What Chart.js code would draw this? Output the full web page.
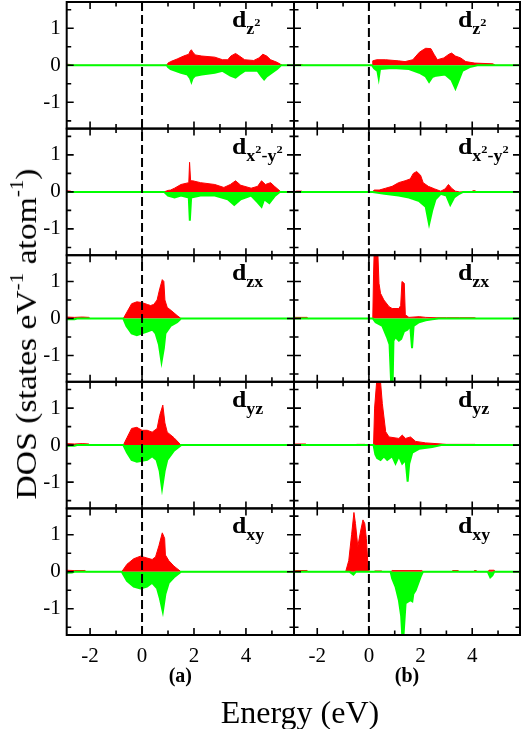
<!DOCTYPE html>
<html>
<head>
<meta charset="utf-8">
<script src="https://cdn.jsdelivr.net/npm/chart.js@4.4.1/dist/chart.umd.min.js"></script>
<style>
html,body{margin:0;padding:0;background:#fff;}
#wrap{position:relative;width:525px;height:729px;overflow:hidden;font-family:"Liberation Serif","Times New Roman",serif;color:#000;}
canvas{position:absolute;left:0;top:0;}
.pl{position:absolute;font-weight:bold;font-size:23px;line-height:23px;white-space:nowrap;z-index:5;transform:scaleX(1.12);transform-origin:0 0;}
.pl sub{font-size:16px;vertical-align:baseline;position:relative;top:7px;}
.pl sup{font-size:11px;vertical-align:baseline;position:relative;top:-8px;}
#ylab{position:absolute;width:360px;height:32px;line-height:32px;font-size:29px;text-align:center;white-space:nowrap;transform:rotate(-90deg) scaleX(1.16);z-index:5;}
#ylab sup{font-size:18px;vertical-align:baseline;position:relative;top:-13px;}
#xlab{position:absolute;width:260px;height:34px;line-height:34px;font-size:32px;text-align:center;white-space:nowrap;z-index:5;}
</style>
</head>
<body>
<div id="wrap">
  <canvas id="ca" width="525" height="729"></canvas>
  <canvas id="cb" width="525" height="729"></canvas>
  <div id="ylab">DOS (states eV<sup>-1</sup> atom<sup>-1</sup>)</div>
  <div id="xlab">Energy (eV)</div>
</div>
<script>
// ---------------- data (energy in eV, DOS in states/eV/atom) ----------------
const rowLabels = ['z<sup>2</sup>', 'x<sup>2</sup>-y<sup>2</sup>', 'zx', 'yz', 'xy'];
const panelTitles = ['(a)', '(b)'];
const xTickStep = 1;
const yTickStep = 0.5;

// column (a)
const aDz2Up = [[-2.9,0.03],[-2.75,0.02],[-2.7,0],[0.95,0],[1.0,0.06],[1.1,0.1],[1.35,0.17],[1.6,0.25],[1.8,0.3],[1.85,0.38],[1.9,0.42],[1.95,0.36],[2.05,0.28],[2.3,0.25],[2.8,0.22],[3.1,0.15],[3.3,0.15],[3.42,0.25],[3.6,0.32],[3.75,0.25],[3.95,0.15],[4.3,0.13],[4.5,0.2],[4.65,0.3],[4.8,0.25],[4.95,0.15],[5.2,0.08],[5.4,0],[5.85,0]];
const aDz2Dn = [[-2.9,0],[0.95,0],[1.0,-0.05],[1.1,-0.1],[1.5,-0.2],[1.75,-0.25],[1.85,-0.35],[1.9,-0.45],[1.95,-0.35],[2.05,-0.28],[2.3,-0.25],[2.8,-0.2],[3.1,-0.15],[3.4,-0.28],[3.6,-0.33],[3.75,-0.25],[3.95,-0.15],[4.45,-0.15],[4.6,-0.3],[4.7,-0.38],[4.8,-0.3],[5.0,-0.2],[5.2,-0.1],[5.35,0],[5.85,0]];
const aDx2Up = [[-2.9,0.03],[-2.75,0.02],[-2.7,0],[0.85,0],[1.0,0.04],[1.1,0.05],[1.25,0.1],[1.5,0.2],[1.8,0.25],[1.83,0.8],[1.87,0.3],[1.95,0.3],[2.25,0.25],[2.8,0.2],[3.15,0.12],[3.4,0.2],[3.6,0.3],[3.8,0.18],[4.2,0.1],[4.45,0.15],[4.6,0.3],[4.75,0.2],[4.95,0.25],[5.1,0.15],[5.35,0],[5.85,0]];
const aDx2Dn = [[-2.9,0],[0.85,0],[1.0,-0.1],[1.25,-0.15],[1.5,-0.1],[1.8,-0.15],[1.84,-0.78],[1.89,-0.15],[2.25,-0.1],[2.8,-0.1],[3.3,-0.2],[3.55,-0.35],[3.8,-0.2],[4.2,-0.1],[4.45,-0.28],[4.6,-0.4],[4.7,-0.2],[4.9,-0.3],[5.1,-0.12],[5.3,0],[5.85,0]];
const aDzxUp = [[-2.9,0.04],[-2.6,0.03],[-2.3,0.04],[-2.05,0.03],[-2.0,0],[-0.72,0],[-0.6,0.15],[-0.4,0.4],[-0.2,0.45],[0.0,0.43],[0.2,0.38],[0.33,0.35],[0.45,0.38],[0.58,0.5],[0.68,0.8],[0.78,1.05],[0.84,1.0],[0.88,0.5],[0.97,0.3],[1.15,0.2],[1.35,0.08],[1.5,0],[5.85,0]];
const aDzxDn = [[-2.9,-0.02],[-2.6,-0.02],[-2.5,0],[-0.72,0],[-0.6,-0.2],[-0.4,-0.4],[-0.2,-0.45],[0.0,-0.4],[0.2,-0.35],[0.4,-0.3],[0.52,-0.4],[0.65,-0.7],[0.75,-1.17],[0.84,-0.8],[0.9,-0.4],[1.1,-0.2],[1.35,-0.1],[1.5,0],[5.85,0]];
const aDyzUp = [[-2.9,0.04],[-2.6,0.03],[-2.3,0.04],[-2.05,0.03],[-2.0,0],[-0.72,0],[-0.58,0.2],[-0.4,0.45],[-0.2,0.48],[0.0,0.4],[0.2,0.4],[0.39,0.35],[0.58,0.45],[0.68,0.8],[0.8,1.08],[0.88,0.6],[0.97,0.35],[1.23,0.2],[1.5,0],[5.85,0]];
const aDyzDn = [[-2.9,-0.02],[-2.6,-0.02],[-2.5,0],[-0.72,0],[-0.58,-0.2],[-0.4,-0.4],[-0.2,-0.45],[0.0,-0.42],[0.2,-0.4],[0.39,-0.3],[0.56,-0.4],[0.68,-0.7],[0.77,-1.17],[0.87,-0.7],[0.97,-0.4],[1.23,-0.15],[1.5,0],[5.85,0]];
const aDxyUp = [[-2.9,0.04],[-2.6,0.03],[-2.2,0.03],[-2.15,0],[-0.78,0],[-0.58,0.2],[-0.32,0.35],[-0.06,0.42],[0.19,0.37],[0.39,0.33],[0.52,0.4],[0.65,0.7],[0.78,1.05],[0.87,0.9],[0.9,0.45],[1.03,0.3],[1.23,0.15],[1.5,0],[5.85,0]];
const aDxyDn = [[-2.9,-0.03],[-2.7,-0.02],[-2.6,0],[-0.78,0],[-0.58,-0.25],[-0.32,-0.4],[-0.06,-0.45],[0.19,-0.4],[0.39,-0.3],[0.58,-0.45],[0.68,-0.7],[0.8,-1.08],[0.9,-0.6],[1.03,-0.3],[1.23,-0.15],[1.5,0],[5.85,0]];

// column (b)
const bDz2Up = [[-2.9,0],[-2.8,0.02],[-2.6,0.02],[-2.55,0],[0.12,0],[0.15,0.12],[0.3,0.15],[0.65,0.15],[1.15,0.12],[1.4,0.1],[1.7,0.15],[1.95,0.35],[2.1,0.42],[2.2,0.46],[2.4,0.45],[2.52,0.3],[2.65,0.15],[2.9,0.2],[3.1,0.3],[3.2,0.33],[3.35,0.25],[3.55,0.2],[3.75,0.1],[4.1,0.06],[4.8,0.04],[4.9,0],[5.85,0]];
const bDz2Dn = [[-2.9,0],[0.12,0],[0.2,-0.08],[0.33,-0.15],[0.38,-0.35],[0.43,-0.1],[0.9,-0.07],[1.55,-0.1],[1.95,-0.2],[2.2,-0.3],[2.33,-0.45],[2.45,-0.32],[2.6,-0.28],[2.95,-0.25],[3.2,-0.4],[3.35,-0.63],[3.48,-0.4],[3.62,-0.15],[3.9,-0.05],[4.2,0],[5.85,0]];
const bDx2Up = [[-2.9,0],[-2.8,0.02],[-2.6,0.02],[-2.55,0],[0.15,0],[0.2,0.05],[0.4,0.05],[0.65,0.1],[0.9,0.15],[1.15,0.25],[1.4,0.3],[1.6,0.35],[1.72,0.5],[1.85,0.55],[2.0,0.45],[2.1,0.25],[2.3,0.15],[2.55,0.08],[2.78,0.02],[2.95,0.08],[3.08,0.2],[3.2,0.1],[3.35,0.02],[3.5,0],[4.0,0],[4.02,0.03],[4.12,0.03],[4.15,0],[5.85,0]];
const bDx2Dn = [[-2.9,0],[0.15,0],[0.6,-0.05],[1.15,-0.1],[1.55,-0.15],[1.95,-0.25],[2.2,-0.4],[2.33,-0.87],[2.45,-0.5],[2.58,-0.2],[2.78,-0.05],[3.0,-0.1],[3.15,-0.35],[3.3,-0.15],[3.5,-0.05],[3.65,0],[5.85,0]];
const bDzxUp = [[-2.9,0],[-2.85,0.03],[-2.4,0.03],[-2.35,0],[0.15,0],[0.18,1.2],[0.2,1.7],[0.35,1.7],[0.39,0.95],[0.45,0.68],[0.58,0.5],[0.78,0.32],[0.9,0.27],[1.16,0.27],[1.23,0.35],[1.28,1.0],[1.37,0.95],[1.41,0.1],[1.55,0.03],[1.95,0.05],[2.2,0.03],[2.6,0.02],[3.0,0.02],[3.5,0.02],[4.1,0.02],[4.15,0],[5.85,0]];
const bDzxDn = [[-2.9,0],[0.15,0],[0.26,-0.1],[0.52,-0.2],[0.7,-0.5],[0.8,-0.7],[0.86,-1.71],[0.92,-1.71],[0.95,-0.6],[1.03,-0.5],[1.16,-0.6],[1.25,-0.55],[1.36,-0.35],[1.49,-0.3],[1.6,-0.2],[1.67,-0.8],[1.73,-0.2],[1.94,-0.1],[2.2,-0.05],[2.45,-0.02],[2.7,0],[5.85,0]];
const bDyzUp = [[-2.9,0],[-2.85,0.03],[-2.45,0.03],[-2.4,0],[-0.5,0],[-0.48,0.02],[-0.15,0.02],[-0.13,0],[0.18,0],[0.22,1.0],[0.3,1.71],[0.45,1.71],[0.52,1.12],[0.65,0.36],[0.78,0.22],[1.16,0.18],[1.29,0.27],[1.42,0.18],[1.61,0.22],[1.81,0.1],[2.2,0.06],[2.6,0.04],[3.0,0.02],[3.5,0.02],[4.1,0.02],[4.15,0],[5.85,0]];
const bDyzDn = [[-2.9,0],[0.18,0],[0.25,-0.25],[0.32,-0.35],[0.45,-0.4],[0.58,-0.3],[0.71,-0.4],[0.9,-0.3],[1.03,-0.5],[1.16,-0.3],[1.29,-0.5],[1.42,-0.4],[1.5,-0.99],[1.56,-0.5],[1.68,-0.2],[1.94,-0.1],[2.45,-0.05],[2.8,0],[5.85,0]];
const bDxyUp = [[-2.9,0],[-2.85,0.03],[-2.4,0.03],[-2.35,0],[-0.9,0],[-0.78,0.3],[-0.67,1.0],[-0.58,1.6],[-0.52,1.3],[-0.43,0.68],[-0.32,1.1],[-0.23,1.4],[-0.16,1.3],[-0.1,0.9],[-0.03,0.1],[0.0,0],[0.2,0],[0.22,0.02],[0.5,0.02],[0.52,0],[0.85,0],[0.9,0.03],[2.05,0.03],[2.1,0],[3.2,0],[3.25,0.03],[3.45,0.03],[3.5,0],[4.05,0],[4.08,0.03],[4.15,0.03],[4.2,0],[4.6,0],[4.65,0.04],[4.85,0.04],[4.9,0],[5.85,0]];
const bDxyDn = [[-2.9,0],[-0.75,0],[-0.6,-0.08],[-0.5,0],[0.84,0],[0.9,-0.18],[1.03,-0.4],[1.16,-0.77],[1.25,-1.2],[1.29,-1.71],[1.34,-1.71],[1.42,-0.85],[1.61,-0.77],[1.68,-0.8],[1.72,-0.6],[1.81,-0.5],[2.0,-0.14],[2.07,-0.03],[2.1,0],[4.6,0],[4.7,-0.15],[4.78,-0.1],[4.85,0],[5.85,0]];

const columnA = [[aDz2Up,aDz2Dn],[aDx2Up,aDx2Dn],[aDzxUp,aDzxDn],[aDyzUp,aDyzDn],[aDxyUp,aDxyDn]];
const columnB = [[bDz2Up,bDz2Dn],[bDx2Up,bDx2Dn],[bDzxUp,bDzxDn],[bDyzUp,bDyzDn],[bDxyUp,bDxyDn]];

// ---------------- layout / style ----------------
const FONT = '"Liberation Serif", "Times New Roman", serif';
const W = 525, H = 729;
const E_MIN = -2.9, E_MAX = 5.85, Y_LIM = 1.71;
const PLOT_TOP = 2, PLOT_BOTTOM = 635, PLOT_LEFT = 66.7, COL_SPLIT = 294, PLOT_RIGHT = 520;
const UP_COLOR = '#ff0000', DN_COLOR = '#00ff00';
const ROW_IDS = ['r1','r2','r3','r4','r5'];

const framePlugin = {
  id: 'frames',
  afterDatasetsDraw(chart) {
    const {ctx, chartArea} = chart;
    const xs = chart.scales.x;
    ctx.save();
    ctx.strokeStyle = '#000';
    // Fermi level
    const x0 = xs.getPixelForValue(0);
    ctx.lineWidth = 2;
    ctx.setLineDash([9, 4]);
    ctx.beginPath();
    ctx.moveTo(x0, chartArea.top);
    ctx.lineTo(x0, chartArea.bottom);
    ctx.stroke();
    ctx.setLineDash([]);
    ROW_IDS.forEach(id => {
      const ys = chart.scales[id];
      ctx.lineWidth = 2;
      ctx.strokeRect(chartArea.left, ys.top, chartArea.right - chartArea.left, ys.bottom - ys.top);
      ctx.lineWidth = 1.6;
      ctx.beginPath();
      ys.ticks.forEach(t => {
        const v = t.value;
        if (Math.abs(v / yTickStep - Math.round(v / yTickStep)) > 1e-6) return;
        const py = ys.getPixelForValue(v);
        const len = Number.isInteger(v) ? 7 : 4.5;
        ctx.moveTo(chartArea.left, py); ctx.lineTo(chartArea.left + len, py);
        ctx.moveTo(chartArea.right, py); ctx.lineTo(chartArea.right - len, py);
      });
      xs.ticks.forEach(t => {
        const v = t.value;
        if (!Number.isInteger(v)) return;
        const px = xs.getPixelForValue(v);
        const len = (v % 2 === 0) ? 7 : 4.5;
        ctx.moveTo(px, ys.top); ctx.lineTo(px, ys.top + len);
        ctx.moveTo(px, ys.bottom); ctx.lineTo(px, ys.bottom - len);
      });
      ctx.stroke();
    });
    ctx.restore();
  }
};

function noMargins(s) {
  s.paddingTop = 0; s.paddingBottom = 0; s.paddingLeft = 0; s.paddingRight = 0;
}

function makeChart(canvasId, column, isLeft, title) {
  const datasets = [];
  column.forEach((pair, i) => {
    datasets.push({
      data: pair[0].map(([x, y]) => ({x, y})),
      yAxisID: ROW_IDS[i], xAxisID: 'x',
      borderColor: UP_COLOR, backgroundColor: UP_COLOR, borderWidth: 1,
      fill: 'origin', pointRadius: 0, tension: 0, order: 1
    });
    datasets.push({
      data: pair[1].map(([x, y]) => ({x, y})),
      yAxisID: ROW_IDS[i], xAxisID: 'x',
      borderColor: DN_COLOR, backgroundColor: DN_COLOR, borderWidth: 2,
      fill: 'origin', pointRadius: 0, tension: 0, order: 0
    });
  });
  const scales = {
    x: {
      type: 'linear', position: 'bottom', min: E_MIN, max: E_MAX,
      afterFit: s => { s.height = H - PLOT_BOTTOM; noMargins(s); },
      grid: {display: false, drawTicks: false}, border: {display: false},
      ticks: {
        stepSize: xTickStep, includeBounds: false, autoSkip: false, maxRotation: 0, padding: 9,
        color: '#000', font: {family: FONT, size: 21},
        callback: v => (Number.isInteger(v) && v % 2 === 0) ? String(v) : ''
      },
      title: {display: true, text: title, color: '#000', font: {family: FONT, size: 20, weight: 'bold'}, padding: {top: 0, bottom: 40}}
    }
  };
  ROW_IDS.forEach((id, i) => {
    scales[id] = {
      type: 'linear', position: 'left', stack: 'col', stackWeight: 1, weight: ROW_IDS.length - i,
      min: -Y_LIM, max: Y_LIM, offset: false,
      afterFit: s => { s.width = isLeft ? PLOT_LEFT : 0; noMargins(s); },
      grid: {display: false, drawTicks: false}, border: {display: false},
      ticks: {
        display: isLeft, stepSize: yTickStep, includeBounds: false, autoSkip: false, padding: 6,
        color: '#000', font: {family: FONT, size: 21},
        callback: v => Number.isInteger(v) ? String(v) : ''
      }
    };
  });
  return new Chart(document.getElementById(canvasId), {
    type: 'line',
    data: {datasets},
    options: {
      responsive: false, animation: false, events: [],
      layout: {padding: isLeft
        ? {left: 0, right: W - COL_SPLIT, top: PLOT_TOP, bottom: 0}
        : {left: COL_SPLIT, right: W - PLOT_RIGHT, top: PLOT_TOP, bottom: 0}},
      plugins: {legend: {display: false}, tooltip: {enabled: false}, title: {display: false}},
      scales
    },
    plugins: [framePlugin]
  });
}

const chartA = makeChart('ca', columnA, true, panelTitles[0]);
const chartB = makeChart('cb', columnB, false, panelTitles[1]);

// panel labels, placed from the scales' geometry
const wrap = document.getElementById('wrap');
[chartA, chartB].forEach(ch => {
  ROW_IDS.forEach((id, i) => {
    const ys = ch.scales[id];
    const d = document.createElement('div');
    d.className = 'pl';
    d.innerHTML = 'd<sub>' + rowLabels[i] + '</sub>';
    d.style.left = (ch.chartArea.right - 62) + 'px';
    d.style.top = (ys.top + 6) + 'px';
    wrap.appendChild(d);
  });
});
const ylab = document.getElementById('ylab');
ylab.style.left = (26 - 180) + 'px';
ylab.style.top = (334 - 16) + 'px';
const xlab = document.getElementById('xlab');
xlab.style.left = (300 - 130) + 'px';
xlab.style.top = (712 - 17) + 'px';
</script>
</body>
</html>
